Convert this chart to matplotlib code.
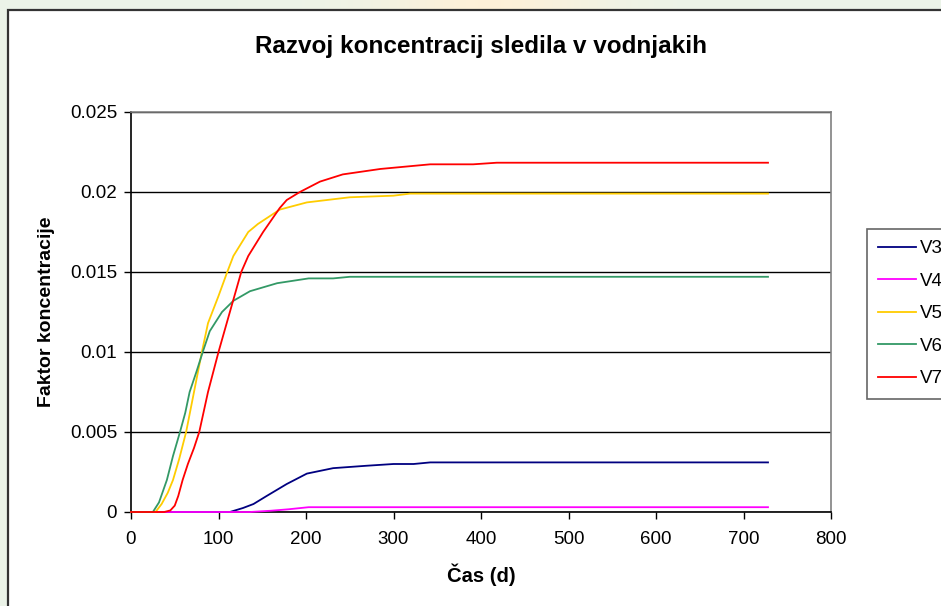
import numpy as np
import matplotlib
matplotlib.use("Agg")
from matplotlib import pyplot as plt
from matplotlib.patches import Rectangle

# cas (dni) in faktor koncentracije za vsak vodnjak
t_v3 = [0, 113, 128, 140, 155, 178, 201, 231, 269, 300, 323, 342, 728]
v3 = [0, 0, 0.00025, 0.0005, 0.001, 0.00175, 0.0024, 0.00274, 0.00289, 0.0030, 0.0030, 0.0031, 0.0031]

t_v4 = [0, 136, 160, 180, 203, 728]
v4 = [0, 0, 0.00008, 0.00017, 0.0003, 0.0003]

t_v5 = [0, 28, 35, 42, 48, 55, 63, 72, 81, 88, 100, 110, 117, 134, 145, 170, 201, 250, 300, 319, 728]
v5 = [0, 0, 0.0005, 0.0012, 0.002, 0.0033, 0.005, 0.0075, 0.01, 0.0118, 0.0135, 0.015, 0.016,
      0.0175, 0.018, 0.0189, 0.01935, 0.01967, 0.01977, 0.0199, 0.0199]

t_v6 = [0, 25, 32, 41, 48, 56, 62, 67, 75, 82, 90, 104, 117, 136, 167, 203, 231, 250, 728]
v6 = [0, 0, 0.0006, 0.002, 0.0035, 0.005, 0.0062, 0.0075, 0.0088, 0.01, 0.0113, 0.0125, 0.0132,
      0.0138, 0.0143, 0.0146, 0.0146, 0.0147, 0.0147]

t_v7 = [0, 38, 45, 50, 54, 59, 65, 72, 78, 88, 100, 113, 126, 134, 151, 170, 178, 193, 216, 242,
        285, 342, 391, 418, 728]
v7 = [0, 0, 0.0001, 0.0004, 0.001, 0.002, 0.003, 0.004, 0.005, 0.0075, 0.01, 0.0125, 0.015, 0.016,
      0.0175, 0.019, 0.0195, 0.02, 0.02065, 0.0211, 0.02144, 0.02173, 0.02173, 0.02183, 0.02183]

labels = ["V3", "V4", "V5", "V6", "V7"]
colors = ["#000080", "#FF00FF", "#FFCC00", "#339966", "#FF0000"]

x_ticks = [0, 100, 200, 300, 400, 500, 600, 700, 800]
y_ticks = [0, 0.005, 0.01, 0.015, 0.02, 0.025]
y_tick_labels = ["0", "0.005", "0.01", "0.015", "0.02", "0.025"]

plt.rcParams['font.family'] = ['Liberation Sans', 'DejaVu Sans']

W, H = 941, 606
fig = plt.figure(figsize=(W / 100, H / 100), dpi=100)

# ozadje okoli grafa (rahlo zelenkasto, toplo v sredini)
bg = fig.add_axes([0, 0, 1, 1], zorder=-10)
xs = np.linspace(0, 1, 400)
warm = np.exp(-((xs - 0.52) / 0.12) ** 2)
green = np.array([0.925, 0.955, 0.910])
orange = np.array([0.995, 0.945, 0.850])
grad = green[None, :] * (1 - warm[:, None]) + orange[None, :] * warm[:, None]
bg.imshow(grad[None, :, :], aspect='auto', extent=[0, 1, 0, 1])
bg.axis('off')

# podrocje grafikona
fig.patches.append(Rectangle((8 / W, -0.02), 1.1, 1 - 10 / H + 0.02, transform=fig.transFigure,
                             facecolor='white', edgecolor='#333333', linewidth=1.6, zorder=-5))

ax = fig.add_axes([131 / W, 94 / H, 700 / W, 400 / H])
ax.set_facecolor('none')

series = [(t_v3, v3), (t_v4, v4), (t_v5, v5), (t_v6, v6), (t_v7, v7)]
for (t, v), lab, c in zip(series, labels, colors):
    ax.plot(t, v, color=c, linewidth=1.3, label=lab, clip_on=False, zorder=3)

ax.set_xlim(0, 800)
ax.set_ylim(0, 0.025)
ax.set_xticks(x_ticks)
ax.set_yticks(y_ticks)
ax.set_yticklabels(y_tick_labels)
ax.tick_params(axis='both', direction='out', length=5, width=1, labelsize=13.5, colors='black')
ax.tick_params(axis='x', pad=9)
ax.tick_params(axis='y', pad=5)
ax.grid(axis='y', color='black', linewidth=1)
ax.set_axisbelow(True)

for s in ['top', 'right']:
    ax.spines[s].set_color('#808080')
    ax.spines[s].set_linewidth(1.2)
for s in ['left', 'bottom']:
    ax.spines[s].set_color('black')
    ax.spines[s].set_linewidth(1.2)

ax.set_xlabel("Čas (d)", fontsize=14.5, fontweight='bold', labelpad=11)
ax.set_ylabel("Faktor koncentracije", fontsize=14, fontweight='bold', labelpad=11)

fig.text(481 / W, 1 - 46 / H, "Razvoj koncentracij sledila v vodnjakih", ha='center', va='center',
         fontsize=17.5, fontweight='bold')

leg = fig.legend(loc='upper left', bbox_to_anchor=(867 / W, 1 - 229 / H), fontsize=13.5,
                 frameon=True, fancybox=False, handlelength=2.0, handletextpad=0.2,
                 labelspacing=0.82, borderpad=0.6, borderaxespad=0)
leg.get_frame().set_edgecolor('#404040')
leg.get_frame().set_linewidth(1.2)

fig.savefig("out.png", dpi=100)
